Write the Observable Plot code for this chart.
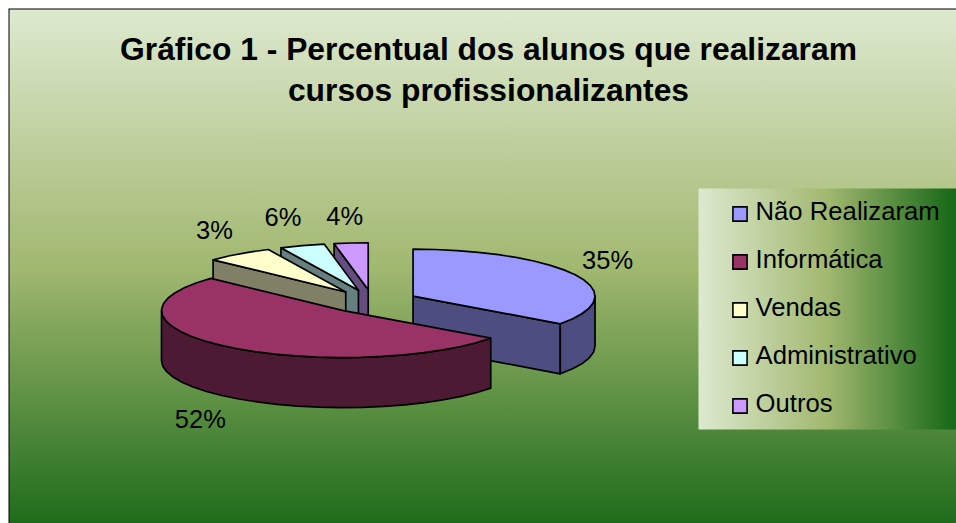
<!DOCTYPE html>
<html>
<head>
<meta charset="utf-8">
<script src="https://cdn.jsdelivr.net/npm/d3@7"></script>
<script src="https://cdn.jsdelivr.net/npm/@observablehq/plot@0.6"></script>
<style>
html,body{margin:0;padding:0;background:#fff;}
#chart svg{display:block;overflow:visible;}
</style>
</head>
<body>
<div id="chart"></div>
<script>
// Data
const categories = ["Não Realizaram", "Informática", "Vendas", "Administrativo", "Outros"];
const sliceShares = [35, 52, 6, 4, 3];           // visual angular share of each slice
const percentLabels = ["35%", "52%", "3%", "6%", "4%"]; // labels as printed on the chart
const topColors = ["#9999FF", "#993366", "#FFFFCC", "#CCFFFF", "#CC99FF"];
const sideColors = ["#4D4D80", "#4D1A33", "#808066", "#668080", "#664D80"];
const titleText = "Gráfico 1 - Percentual dos alunos que realizaram\ncursos profissionalizantes";

// Layout of the pie in the frame (pixels per unit of radius, origin, extrusion)
const W = 956, H = 523;
const RX = 182, RY = 47, OX = 372, OY = 301;
const DEPTH = 50 / RY, EXPLODE = 0.25, FONT = "Liberation Sans, Arial, sans-serif";
const labelNudge = [[0, 5], [-4, 1], [-3, -1], [-8, -4], [-3, -2]]; // px, manual label placement

const rad = d3.scaleLinear().domain([0, 100]).range([0, 2 * Math.PI]);
let acc = 0;
const slices = categories.map((name, i) => {
  const a0 = rad(acc); acc += sliceShares[i]; const a1 = rad(acc);
  const mid = (a0 + a1) / 2;
  return {name, i, a0, a1, mid, cx: EXPLODE * Math.sin(mid), cy: EXPLODE * Math.cos(mid)};
});
const rimAt = (s, a, z = 0) => ({x: s.cx + Math.sin(a), y: s.cy + Math.cos(a) - z});
const apex = (s, z = 0) => ({x: s.cx, y: s.cy - z});
function arc(s, a0, a1, z = 0) {
  const n = Math.max(2, Math.round((a1 - a0) / (7 * Math.PI / 180)));
  return d3.range(n + 1).map(k => rimAt(s, a0 + (a1 - a0) * k / n, z));
}
const closed = pts => [...pts, pts[0]];
const topFace = s => closed([apex(s), ...arc(s, s.a0, s.a1)]);
const radialWall = (s, a) => closed([apex(s), rimAt(s, a), rimAt(s, a, DEPTH), apex(s, DEPTH)]);
function rimWall(s) {
  const a0 = Math.max(s.a0, Math.PI / 2), a1 = Math.min(s.a1, 3 * Math.PI / 2);
  return closed([...arc(s, a0, a1), ...arc(s, a0, a1, DEPTH).reverse()]);
}
const face = (pts, fill) => Plot.line(pts, {
  x: "x", y: "y", fill, stroke: "#000", strokeWidth: 1.7, strokeLinejoin: "round"
});

// Painter's order: far slices first
const order = [4, 3, 2, 0, 1];
const pieMarks = order.flatMap(i => {
  const s = slices[i], side = sideColors[i], m = [];
  if (s.a0 > Math.PI) m.push(face(radialWall(s, s.a0), side));
  if (s.a1 < Math.PI) m.push(face(radialWall(s, s.a1), side));
  if (s.a1 > Math.PI / 2 && s.a0 < 3 * Math.PI / 2) m.push(face(rimWall(s), side));
  m.push(face(topFace(s), topColors[i]));
  return m;
});

// Percent labels sit just outside their slice
const labelData = slices.map(s => {
  const lower = Math.cos(s.mid) < 0 && Math.sin(s.mid) < 0;
  const k = 1.2;
  const [nx, ny] = labelNudge[s.i];
  return {
    text: percentLabels[s.i],
    x: s.cx + k * Math.sin(s.mid) + nx / RX,
    y: s.cy + k * Math.cos(s.mid) + (lower ? -DEPTH - 15 / RY : 15 / RY) - ny / RY
  };
});

const gradient = (id, horizontal, end) => () => {
  const defs = d3.create("svg:defs");
  const g = defs.append("linearGradient").attr("id", id)
    .attr("x1", 0).attr("y1", 0)
    .attr("x2", horizontal ? 1 : 0).attr("y2", horizontal ? 0 : 1);
  [[0, "#DDE9CF"], [0.5, "#A1B86F"], [end, "#1C6B1A"]].forEach(([o, c]) =>
    g.append("stop").attr("offset", o).attr("stop-color", c));
  return defs.node();
};

const legendMarks = categories.flatMap((name, i) => [
  Plot.dot([name], {
    frameAnchor: "top-left", dx: 739.5, dy: 213.5 + 48 * i, symbol: "square", r: 8,
    fill: topColors[i], stroke: "#000", strokeWidth: 1.6
  }),
  Plot.text([name], {
    text: d => d, frameAnchor: "top-left", dx: 755, dy: 211 + 48 * i, textAnchor: "start",
    fontSize: 25.7, fontFamily: FONT, fill: "#000", lineAnchor: "middle"
  })
]);

const chart = Plot.plot({
  width: W, height: H, margin: 0,
  style: {background: "#fff"},
  x: {domain: [-OX / RX, (W - OX) / RX], range: [0, W], axis: null},
  y: {domain: [(OY - H) / RY, OY / RY], range: [H, 0], axis: null},
  marks: [
    gradient("bgGrad", false, 1),
    gradient("legendGrad", true, 0.97),
    Plot.frame({fill: "url(#bgGrad)", stroke: "#000", strokeWidth: 1,
      insetLeft: 8.5, insetTop: 8.5, insetRight: -3, insetBottom: -3}),
    Plot.frame({fill: "url(#legendGrad)", stroke: "none",
      insetLeft: 698, insetTop: 188, insetRight: 0, insetBottom: H - 429}),
    ...pieMarks,
    Plot.text(labelData, {x: "x", y: "y", text: "text", fontSize: 25.5, fontFamily: FONT, fill: "#000"}),
    ...legendMarks,
    Plot.text([titleText], {
      text: d => d, frameAnchor: "top-left", dx: 488, dy: 67, textAnchor: "middle", lineAnchor: "middle",
      fontSize: 31.8, lineHeight: 1.29, fontWeight: "bold", fontFamily: FONT, fill: "#000"
    })
  ]
});
document.getElementById("chart").append(chart);
</script>
</body>
</html>
